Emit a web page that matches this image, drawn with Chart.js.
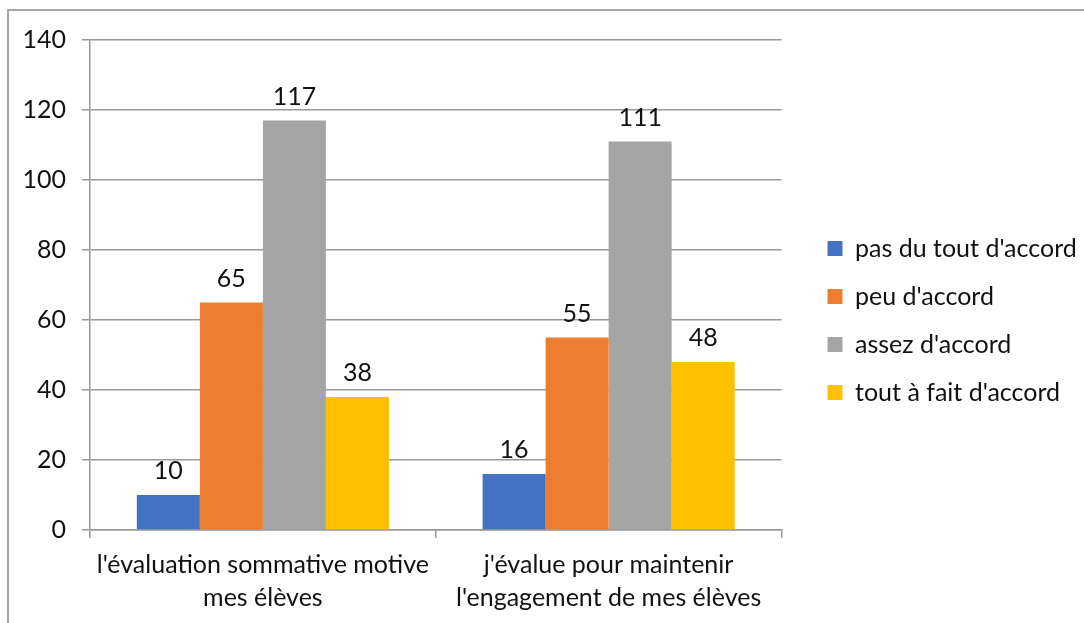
<!DOCTYPE html>
<html>
<head>
<meta charset="utf-8">
<script src="https://cdn.jsdelivr.net/npm/chart.js@4/dist/chart.umd.min.js"></script>
<style>
  html, body { margin: 0; padding: 0; background: #fff; }
  #wrap { position: relative; width: 1084px; height: 623px; overflow: hidden; }
  #frame { position: absolute; left: 7px; top: 9px; width: 1200px; height: 700px;
           border-left: 2px solid #a6a6a6; border-top: 2px solid #a6a6a6; }
  #chart { position: absolute; left: 0; top: 0; }
</style>
</head>
<body>
<div id="wrap">
  <div id="frame"></div>
  <canvas id="chart" width="1084" height="623"></canvas>
</div>
<script>
// ==========================================
// DATA
// ==========================================
const categories = [
    ["l'évaluation sommative motive", "mes élèves"],
    ["j'évalue pour maintenir", "l'engagement de mes élèves"]
];
const seriesNames = ["pas du tout d'accord", "peu d'accord", "assez d'accord", "tout à fait d'accord"];
const pasDuTout = [10, 16];
const peuAccord = [65, 55];
const assezAccord = [117, 111];
const toutAFait = [38, 48];
const seriesColors = ['#4472C4', '#ED7D31', '#A5A5A5', '#FFC000'];
const yTicks = [0, 20, 40, 60, 80, 100, 120, 140];

const FONT = 'Lato, "Open Sans", sans-serif';
const FONT_SIZE = 25;
const GRID = '#999999';

// étiquettes de valeur au-dessus des barres
const valueLabels = {
    id: 'valueLabels',
    afterDatasetsDraw(chart) {
        const ctx = chart.ctx;
        ctx.save();
        ctx.font = FONT_SIZE + 'px ' + FONT;
        ctx.fillStyle = '#111';
        ctx.textAlign = 'center';
        ctx.textBaseline = 'alphabetic';
        chart.data.datasets.forEach((ds, i) => {
            chart.getDatasetMeta(i).data.forEach((bar, j) => {
                ctx.fillText(ds.data[j], bar.x, bar.y - 16);
            });
        });
        ctx.restore();
    }
};

// décaler un peu la légende (espace après la zone de tracé, comme Excel)
const legendGap = {
    id: 'legendGap',
    afterLayout(chart) {
        const lg = chart.legend;
        if (!lg) return;
        lg.left += 23;
        lg.right = chart.width;
        lg.top -= 11;
        lg.bottom -= 11;
    }
};

const seriesData = [pasDuTout, peuAccord, assezAccord, toutAFait];

new Chart(document.getElementById('chart'), {
    type: 'bar',
    data: {
        labels: categories,
        datasets: seriesNames.map((name, i) => ({
            label: name,
            data: seriesData[i],
            backgroundColor: seriesColors[i],
            borderWidth: 0,
            barPercentage: 1,
            categoryPercentage: 0.729
        }))
    },
    options: {
        responsive: false,
        animation: false,
        layout: { padding: { left: 0, top: 40, right: 42, bottom: 0 } },
        plugins: {
            tooltip: { enabled: false },
            legend: {
                position: 'right',
                align: 'center',
                labels: {
                    font: { family: FONT, size: FONT_SIZE },
                    color: '#111',
                    boxWidth: 15,
                    boxHeight: 15,
                    padding: 23
                }
            }
        },
        scales: {
            x: {
                grid: { drawOnChartArea: false, drawTicks: true, tickLength: 8, color: GRID, lineWidth: 1.5, offset: true },
                border: { display: true, color: GRID, width: 1.5 },
                ticks: {
                    font: { family: FONT, size: FONT_SIZE, lineHeight: 1.32 },
                    color: '#111',
                    padding: 10,
                    maxRotation: 0,
                    autoSkip: false
                },
                afterFit(scale) { scale.height = 93; }
            },
            y: {
                min: 0,
                max: 140,
                afterBuildTicks(scale) { scale.ticks = yTicks.map(v => ({ value: v })); },
                grid: { color: GRID, lineWidth: 1.5, tickLength: 8 },
                border: { display: true, color: GRID, width: 1.5 },
                ticks: {
                    font: { family: FONT, size: FONT_SIZE },
                    color: '#111',
                    padding: 16
                },
                afterFit(scale) { scale.width = 90; }
            }
        }
    },
    plugins: [valueLabels, legendGap]
});
</script>
</body>
</html>
